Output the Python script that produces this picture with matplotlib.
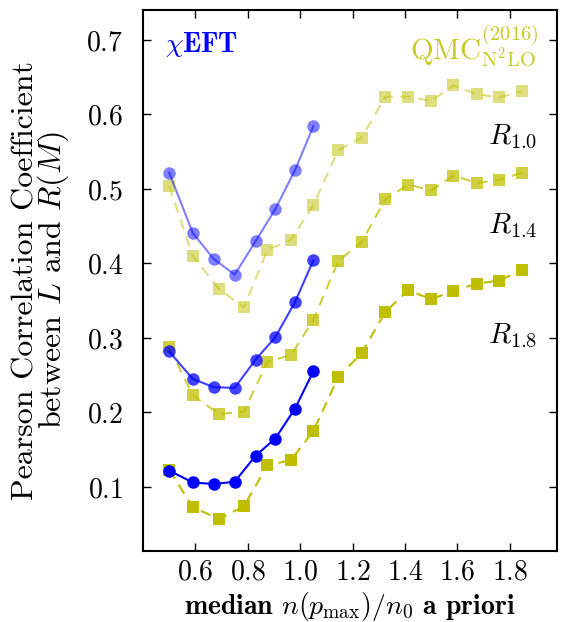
import matplotlib
matplotlib.use("Agg")
import matplotlib.pyplot as plt

plt.rcParams['font.family'] = 'cmr10'
plt.rcParams['mathtext.fontset'] = 'cm'
plt.rcParams['axes.formatter.use_mathtext'] = True

# chiEFT results
x_eft = [0.50, 0.59, 0.67, 0.75, 0.83, 0.905, 0.98, 1.05]
eft_r10 = [0.522, 0.441, 0.406, 0.385, 0.430, 0.473, 0.525, 0.584]
eft_r14 = [0.282, 0.245, 0.234, 0.233, 0.271, 0.301, 0.348, 0.404]
eft_r18 = [0.122, 0.106, 0.104, 0.107, 0.142, 0.165, 0.205, 0.255]

# QMC (2016) N2LO results
x_qmc = [0.50, 0.59, 0.69, 0.785, 0.875, 0.965, 1.05, 1.145,
         1.235, 1.325, 1.413, 1.50, 1.585, 1.675, 1.76, 1.845]
qmc_r10 = [0.504, 0.410, 0.366, 0.341, 0.418, 0.432, 0.478, 0.552,
           0.569, 0.624, 0.624, 0.618, 0.639, 0.627, 0.623, 0.631]
qmc_r14 = [0.288, 0.223, 0.198, 0.201, 0.268, 0.277, 0.324, 0.403,
           0.429, 0.486, 0.506, 0.498, 0.518, 0.508, 0.512, 0.522]
qmc_r18 = [0.123, 0.073, 0.057, 0.074, 0.129, 0.136, 0.175, 0.247,
           0.280, 0.335, 0.364, 0.352, 0.363, 0.373, 0.377, 0.391]

labels = [r'$R_{1.0}$', r'$R_{1.4}$', r'$R_{1.8}$']
label_y = [0.560, 0.4407, 0.293]
alphas = [0.5, 0.75, 1.0]

fig = plt.figure(figsize=(5.62, 6.22), dpi=100)
ax = fig.add_axes([0.2544, 0.1141, 0.7366, 0.8699])

for ye, yq, a in zip([eft_r10, eft_r14, eft_r18], [qmc_r10, qmc_r14, qmc_r18], alphas):
    ax.plot(x_qmc, yq, color='y', alpha=a, lw=1.5, ls='--', dashes=(5, 3.5),
            marker='s', ms=8, mew=0)
    ax.plot(x_eft, ye, color='b', alpha=a, lw=1.5, marker='o', ms=9, mew=0)

for lab, yy in zip(labels, label_y):
    ax.text(1.9065, yy, lab, fontsize=21, ha='right', va='baseline')

ax.text(0.053, 0.922, r'$\chi$EFT', transform=ax.transAxes, color='b',
        fontsize=20, family='cmb10', va='baseline', ha='left')
ax.text(0.954, 0.9075, r'$\mathrm{QMC}^{(2016)}_{\mathrm{N^2LO}}$', transform=ax.transAxes,
        color='y', alpha=0.85, fontsize=21, va='baseline', ha='right')

ax.set_xlim(0.40, 1.98)
ax.set_ylim(0.014, 0.7403)
ax.set_xticks([0.6, 0.8, 1.0, 1.2, 1.4, 1.6, 1.8])
ax.set_yticks([0.1, 0.2, 0.3, 0.4, 0.5, 0.6, 0.7])
ax.tick_params(direction='in', top=True, right=True, length=6, width=1, labelsize=20)
ax.tick_params(axis='x', pad=6)
ax.tick_params(axis='y', pad=14)
for s in ax.spines.values():
    s.set_linewidth(1.5)

ax.set_xlabel(r'median $n(p_{\rm max})/n_0$ a priori', fontsize=20, family='cmb10', labelpad=3)
ax.set_ylabel('Pearson Correlation Coefficient\nbetween $L$ and $R(M)$', fontsize=23, labelpad=11,
              linespacing=0.85)

fig.savefig('out.png', dpi=100)
